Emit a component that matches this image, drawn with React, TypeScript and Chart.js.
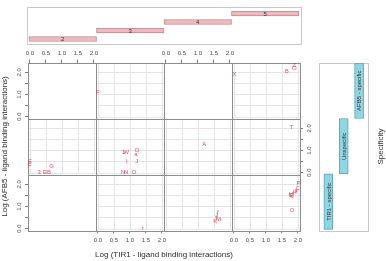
import React, { useEffect, useRef } from 'react';
import { Chart, registerables } from 'chart.js';

Chart.register(...registerables);

const W = 386;
const H = 261;
const FONT = "'Liberation Sans', Arial, Helvetica, sans-serif";

// conditioning variables
const givenLevels = ['2', '3', '4', '5'];
const givenIntervals: [number, number][] = [[1.5, 2.5], [2.5, 3.5], [3.5, 4.5], [4.5, 5.5]];
const specificityLevels = ['TIR1 - specific', 'Unspecific', 'AFB5 - specific'];
const specificityIntervals: [number, number][] = [[0.5, 1.5], [1.5, 2.5], [2.5, 3.5]];

// axis ticks of every cell
const xTickValues = [0, 0.5, 1, 1.5, 2];
const yTickValues = [0, 0.5, 1, 1.5, 2];
const yLabelValues = [0, 1, 2];
const xRange: [number, number] = [-0.06, 2.065];
const yRange: [number, number] = [-0.09, 2.45];

type Obs = [number, number, string];

// observations per cell: [log TIR1, log AFB5, marker]
const tir1Given2: Obs[] = [];
const tir1Given3: Obs[] = [[1.4, 0.0, 'r']];
const tir1Given4: Obs[] = [[1.62, 0.72, 'f'], [1.59, 0.61, 'J'], [1.57, 0.49, 'I'], [1.64, 0.42, 'M'], [1.54, 0.31, 'K']];
const tir1Given5: Obs[] = [[2.02, 2.05, 'P'], [1.99, 1.82, 'C'], [1.94, 1.72, 'a'], [1.9, 1.62, 'H'], [1.81, 1.52, 'Q'], [1.77, 1.51, 'S'], [1.79, 1.55, 'U'], [1.81, 0.81, 'O']];
const unspecGiven2: Obs[] = [[0.0, 0.49, 'E'], [0.0, 0.34, 'F'], [0.29, 0.0, '3'], [0.47, 0.0, 'E'], [0.6, 0.0, 'B'], [0.68, 0.3, 'G']];
const unspecGiven3: Obs[] = [[0.8, 0.92, '1'], [0.88, 0.9, 'W'], [1.23, 1.02, 'D'], [1.19, 0.83, 'a'], [0.9, 0.49, 'I'], [1.21, 0.49, 'J'], [0.78, 0.0, 'N'], [0.88, 0.0, 'N'], [1.13, 0.0, 'O']];
const unspecGiven4: Obs[] = [[1.2, 1.29, 'A']];
const unspecGiven5: Obs[] = [[1.8, 2.03, 'T']];
const afb5Given2: Obs[] = [];
const afb5Given3: Obs[] = [[0.0, 1.1, 'F']];
const afb5Given4: Obs[] = [];
const afb5Given5: Obs[] = [[0.02, 1.93, 'X'], [1.65, 2.06, 'B'], [1.89, 2.34, 'Z'], [1.89, 2.19, 'O']];

// rows from bottom to top, columns left to right
const cells: Obs[][][] = [
  [tir1Given2, tir1Given3, tir1Given4, tir1Given5],
  [unspecGiven2, unspecGiven3, unspecGiven4, unspecGiven5],
  [afb5Given2, afb5Given3, afb5Given4, afb5Given5],
];

const xTitle = 'Log (TIR1 - ligand binding interactions)';
const yTitle = 'Log (AFB5 - ligand binding interactions)';
const givenTitle = 'Specificity';

const TICK_COLOR = '#4d4d4d';
const MARK_COLOR = '#7a7a7a';

const crisp = (v: number) => Math.round(v) + 0.5;

const cellPlugin = {
  id: 'cells',
  beforeDatasetsDraw(chart: any) {
    const ctx = chart.ctx;
    ctx.save();
    ctx.lineWidth = 1;
    ctx.strokeStyle = '#e4e4e4';
    chart.data.datasets.forEach((ds: any) => {
      if (!ds.data.length) return;
      const xs = chart.scales[ds.xAxisID];
      const ys = chart.scales[ds.yAxisID];
      ctx.beginPath();
      xTickValues.forEach((v) => {
        const p = crisp(xs.getPixelForValue(v));
        ctx.moveTo(p, ys.top);
        ctx.lineTo(p, ys.bottom);
      });
      yTickValues.forEach((v) => {
        const p = crisp(ys.getPixelForValue(v));
        ctx.moveTo(xs.left, p);
        ctx.lineTo(xs.right, p);
      });
      ctx.stroke();
    });
    ctx.strokeStyle = '#8c8c8c';
    for (let r = 0; r < 3; r++) {
      for (let c = 0; c < 4; c++) {
        const xs = chart.scales['xb' + c];
        const ys = chart.scales['yl' + r];
        const x0 = crisp(xs.left);
        const x1 = crisp(xs.right);
        const y0 = crisp(ys.top);
        const y1 = crisp(ys.bottom);
        ctx.strokeRect(x0, y0, x1 - x0, y1 - y0);
      }
    }
    ctx.restore();
  },
  afterDatasetsDraw(chart: any) {
    const ctx = chart.ctx;
    ctx.save();
    ctx.font = `6px ${FONT}`;
    ctx.fillStyle = 'rgba(228, 45, 65, 0.85)';
    ctx.textAlign = 'center';
    ctx.textBaseline = 'middle';
    chart.data.datasets.forEach((ds: any, i: number) => {
      const meta = chart.getDatasetMeta(i);
      meta.data.forEach((el: any, j: number) => {
        ctx.fillText(ds.markers[j], el.x, el.y);
      });
    });
    ctx.restore();
  },
};

function xScale(c: number, pos: 'top' | 'bottom', show: boolean) {
  return {
    type: 'linear',
    position: pos,
    stack: pos === 'top' ? 'xTop' : 'xBottom',
    stackWeight: 1,
    weight: pos === 'top' ? 4 - c : c + 1,
    min: xRange[0],
    max: xRange[1],
    bounds: 'data',
    offset: false,
    afterBuildTicks: (s: any) => {
      s.ticks = xTickValues.map((v) => ({ value: v }));
    },
    afterFit: (s: any) => {
      s.height = pos === 'top' ? 62.5 : 20.5;
    },
    grid: { display: show, drawOnChartArea: false, drawTicks: true, tickLength: 3, color: MARK_COLOR, lineWidth: 1 },
    border: { display: false },
    ticks: {
      display: show,
      autoSkip: false,
      maxRotation: 0,
      minRotation: 0,
      padding: 2.9,
      color: TICK_COLOR,
      font: { family: FONT, size: 6, lineHeight: 1.2 },
      callback: (v: any) => Number(v).toFixed(1),
    },
  };
}

function yScale(r: number, pos: 'left' | 'right', show: boolean) {
  return {
    type: 'linear',
    position: pos,
    stack: pos === 'left' ? 'yLeft' : 'yRight',
    stackWeight: 1,
    weight: pos === 'left' ? r + 1 : 3 - r,
    min: yRange[0],
    max: yRange[1],
    bounds: 'data',
    offset: false,
    afterBuildTicks: (s: any) => {
      s.ticks = yTickValues.map((v) => ({ value: v }));
    },
    afterFit: (s: any) => {
      s.width = pos === 'left' ? 19 : 86;
    },
    grid: { display: show, drawOnChartArea: false, drawTicks: true, tickLength: 3, color: MARK_COLOR, lineWidth: 1 },
    border: { display: false },
    ticks: {
      display: show,
      autoSkip: false,
      minRotation: 90,
      maxRotation: 90,
      crossAlign: 'center',
      padding: 1.8,
      color: TICK_COLOR,
      font: { family: FONT, size: 6, lineHeight: 1.2 },
      callback: (v: any) => (yLabelValues.includes(Number(v)) ? Number(v).toFixed(1) : ''),
    },
  };
}

function mainConfig(): any {
  const scales: any = {};
  for (let c = 0; c < 4; c++) {
    scales['xt' + c] = xScale(c, 'top', c % 2 === 0);
    scales['xb' + c] = xScale(c, 'bottom', c % 2 === 1);
  }
  for (let r = 0; r < 3; r++) {
    scales['yl' + r] = yScale(r, 'left', r !== 1);
    scales['yr' + r] = yScale(r, 'right', r === 1);
  }
  const datasets: any[] = [];
  cells.forEach((row, r) =>
    row.forEach((obs, c) => {
      datasets.push({
        label: `${specificityLevels[r]} / ${givenLevels[c]}`,
        data: obs.map(([x, y]) => ({ x, y })),
        markers: obs.map((o) => o[2]),
        xAxisID: 'xb' + c,
        yAxisID: 'yl' + r,
        pointRadius: 0,
        pointHoverRadius: 0,
        showLine: false,
      });
    })
  );
  return {
    type: 'scatter',
    data: { datasets },
    options: {
      responsive: false,
      animation: false,
      events: [],
      layout: { padding: 0 },
      scales,
      plugins: {
        legend: { display: false },
        tooltip: { enabled: false },
        title: {
          display: true,
          position: 'bottom',
          text: xTitle,
          fullSize: false,
          color: '#2b2b2b',
          font: { family: FONT, size: 8, weight: 'normal', lineHeight: 1 },
          padding: { top: 0, bottom: 2 },
        },
        subtitle: {
          display: true,
          position: 'left',
          text: yTitle,
          fullSize: false,
          color: '#2b2b2b',
          font: { family: FONT, size: 8, weight: 'normal', lineHeight: 1 },
          padding: { top: 1, bottom: 0 },
        },
      },
    },
    plugins: [cellPlugin],
  };
}

const framePlugin = {
  id: 'frame',
  beforeDatasetsDraw(chart: any) {
    const { ctx, chartArea: a } = chart;
    ctx.save();
    ctx.strokeStyle = '#c9c9c9';
    ctx.lineWidth = 1;
    const x0 = crisp(a.left);
    const x1 = crisp(a.right);
    const y0 = crisp(a.top);
    const y1 = crisp(a.bottom);
    ctx.strokeRect(x0, y0, x1 - x0, y1 - y0);
    ctx.restore();
  },
};

function barTextPlugin(labels: string[], rotate: boolean, title?: string) {
  return {
    id: 'barText',
    afterDatasetsDraw(chart: any) {
      const ctx = chart.ctx;
      const meta = chart.getDatasetMeta(0);
      ctx.save();
      ctx.fillStyle = '#333333';
      ctx.textAlign = 'center';
      ctx.textBaseline = 'middle';
      ctx.font = `6px ${FONT}`;
      meta.data.forEach((el: any, i: number) => {
        const p = el.getCenterPoint();
        ctx.save();
        ctx.translate(p.x, p.y);
        if (rotate) ctx.rotate(-Math.PI / 2);
        ctx.fillText(labels[i], 0, 0.5);
        ctx.restore();
      });
      if (title) {
        const a = chart.chartArea;
        ctx.font = `8px ${FONT}`;
        ctx.fillStyle = '#2b2b2b';
        ctx.translate(a.right + 13, (a.top + a.bottom) / 2);
        ctx.rotate(-Math.PI / 2);
        ctx.fillText(title, 0, 0);
      }
      ctx.restore();
    },
  };
}

function givenTopConfig(): any {
  return {
    type: 'bar',
    data: {
      datasets: [
        {
          data: givenIntervals.map((iv, i) => ({ x: iv, y: i + 1 })),
          backgroundColor: '#f3b8bd',
          borderColor: '#b58d90',
          borderWidth: 1,
          borderSkipped: false,
          barThickness: 5,
        },
      ],
    },
    options: {
      indexAxis: 'y',
      responsive: false,
      animation: false,
      events: [],
      layout: { padding: { left: 27, right: W - 301, top: 7, bottom: H - 44 } },
      scales: {
        x: { type: 'linear', min: 1.47, max: 5.53, display: false, offset: false },
        y: { type: 'linear', min: 0.41, max: 4.76, display: false, offset: false },
      },
      plugins: { legend: { display: false }, tooltip: { enabled: false } },
    },
    plugins: [framePlugin, barTextPlugin(givenLevels, false)],
  };
}

function givenRightConfig(): any {
  return {
    type: 'bar',
    data: {
      datasets: [
        {
          data: specificityIntervals.map((iv, i) => ({ x: i + 1, y: iv })),
          backgroundColor: '#90d5e3',
          borderColor: '#5fa2b1',
          borderWidth: 1,
          borderSkipped: false,
          barThickness: 9,
        },
      ],
    },
    options: {
      responsive: false,
      animation: false,
      events: [],
      layout: { padding: { left: 319, right: W - 368, top: 62.5, bottom: H - 230.5 } },
      scales: {
        x: { type: 'linear', min: 0.39, max: 3.58, display: false, offset: false },
        y: { type: 'linear', min: 0.48, max: 3.51, display: false, offset: false },
      },
      plugins: { legend: { display: false }, tooltip: { enabled: false } },
    },
    plugins: [framePlugin, barTextPlugin(specificityLevels, true, givenTitle)],
  };
}

export default function App() {
  const mainRef = useRef<HTMLCanvasElement>(null);
  const topRef = useRef<HTMLCanvasElement>(null);
  const rightRef = useRef<HTMLCanvasElement>(null);

  useEffect(() => {
    const charts = [
      new Chart(mainRef.current as HTMLCanvasElement, mainConfig()),
      new Chart(topRef.current as HTMLCanvasElement, givenTopConfig()),
      new Chart(rightRef.current as HTMLCanvasElement, givenRightConfig()),
    ];
    return () => charts.forEach((ch) => ch.destroy());
  }, []);

  const canvasStyle: React.CSSProperties = { position: 'absolute', left: 0, top: 0 };
  return (
    <div style={{ position: 'fixed', left: 0, top: 0, width: W, height: H, background: '#ffffff' }}>
      <canvas ref={mainRef} width={W} height={H} style={canvasStyle} />
      <canvas ref={topRef} width={W} height={H} style={canvasStyle} />
      <canvas ref={rightRef} width={W} height={H} style={canvasStyle} />
    </div>
  );
}
